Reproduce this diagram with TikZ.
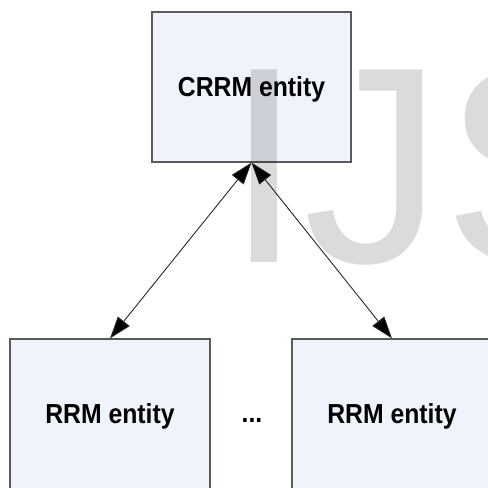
\documentclass[tikz,border=0pt]{standalone}
\usepackage{fontspec}
\setmainfont{Liberation Sans}
\newfontfamily\entityfont[FakeStretch=0.9]{Liberation Sans}
\usepackage{xcolor}
\usepackage{tikz}
\usetikzlibrary{arrows.meta,positioning}

\definecolor{entityfill}{RGB}{239,243,252}
\definecolor{entityline}{RGB}{90,90,90}

\begin{document}
\begin{tikzpicture}[x=1pt,y=1pt,
    entity/.style={draw=entityline, line width=1.1pt, fill=entityfill,
        minimum height=150pt, inner sep=0pt, text height=19pt, text depth=0pt,
        font=\entityfont\bfseries\fontsize{27.5}{30}\selectfont},
    link/.style={line width=0.9pt, draw=black!85,
        {Triangle[length=22pt,width=15pt,fill=black]}-{Triangle[length=22pt,width=15pt,fill=black]}}]
    \useasboundingbox (0,0) rectangle (488,488);
    \clip (0,0) rectangle (488,488);

    % Central entity
    \node[entity, minimum width=199pt] (crrm) at (251.5,401) {CRRM entity};

    % Local entities
    \node[entity, minimum width=200pt] (rrma) at (110,74) {RRM entity};
    \node[entity, minimum width=200pt] (rrmb) at (392,74) {RRM entity};
    \node[anchor=base, font=\entityfont\bfseries\fontsize{27.5}{30}\selectfont] (dots) at (252,65) {...};

    % Links
    \draw[link] (crrm.south) -- (rrma.north);
    \draw[link] (crrm.south) -- (rrmb.north);

    % Watermark
    \node[anchor=base west, inner sep=0pt, text=black, text opacity=0.14,
        font=\fontsize{280}{280}\selectfont] (mark) at (225,225) {IJS};
\end{tikzpicture}
\end{document}
